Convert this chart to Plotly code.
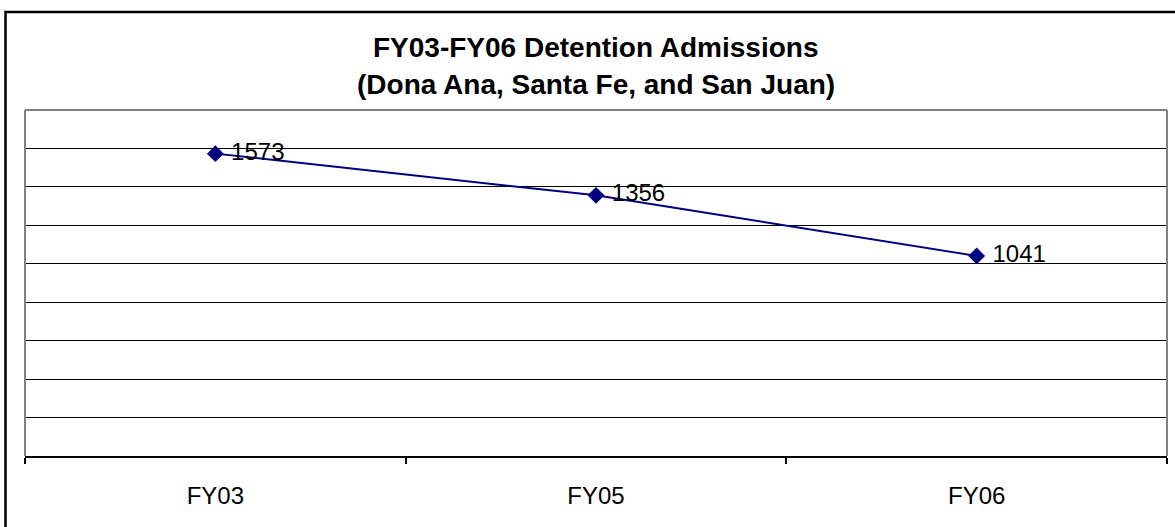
import plotly.graph_objects as go

categories = ["FY03", "FY05", "FY06"]
admissions = [1573, 1356, 1041]
title_line1 = "FY03-FY06 Detention Admissions"
title_line2 = "(Dona Ana, Santa Fe, and San Juan)"

W, H = 1175, 527
ml, mr, mt, mb = 25, 8, 110, 71
pw, ph = W - ml - mr, H - mt - mb

def px_x(p):
    return (p - ml) / pw

def px_y(p):
    return (H - mb - p) / ph

FONT = "Liberation Sans, Arial, sans-serif"
NAVY = "#000080"

fig = go.Figure()
fig.add_trace(go.Scatter(
    x=categories, y=admissions,
    mode="lines+markers+text", textposition="middle right",
    texttemplate="\u00a0%{y}",
    textfont=dict(family=FONT, size=24, color="black"),
    line=dict(color=NAVY, width=2),
    marker=dict(symbol="diamond", size=13, color=NAVY),
    cliponaxis=False, showlegend=False, hoverinfo="x+y",
))

fig.update_layout(
    width=W, height=H,
    margin=dict(l=ml, r=mr, t=mt, b=mb),
    paper_bgcolor="white", plot_bgcolor="white",
    font=dict(family=FONT, color="black"),
    xaxis=dict(
        type="category", range=[-0.5, 2.5],
        showline=True, linecolor="black", linewidth=2,
        ticks="outside", tickson="boundaries", ticklen=6, tickwidth=2, tickcolor="black",
        tickfont=dict(family=FONT, size=24, color="black"),
        ticklabelstandoff=17,
        showgrid=False, zeroline=False,
    ),
    yaxis=dict(
        range=[0, 1800], dtick=200, tick0=0,
        showticklabels=False, ticks="",
        showgrid=True, gridcolor="black", gridwidth=1,
        zeroline=False, showline=False,
    ),
    annotations=[
        dict(text="<b>" + title_line1 + "</b>",
             xref="paper", yref="paper", x=0.5, y=px_y(48),
             xanchor="center", yanchor="middle", showarrow=False,
             font=dict(family=FONT, size=28, color="black")),
        dict(text="<b>" + title_line2 + "</b>",
             xref="paper", yref="paper", x=0.5, y=px_y(85),
             xanchor="center", yanchor="middle", showarrow=False,
             font=dict(family=FONT, size=28, color="black")),
    ],
    shapes=[
        dict(type="line", xref="paper", yref="paper", x0=0, x1=1, y0=1, y1=1,
             line=dict(color="#808080", width=2)),
        dict(type="line", xref="paper", yref="paper", x0=0, x1=0, y0=0, y1=1,
             line=dict(color="#808080", width=2)),
        dict(type="line", xref="paper", yref="paper", x0=1, x1=1, y0=0, y1=1,
             line=dict(color="#808080", width=2)),
        dict(type="rect", xref="paper", yref="paper",
             x0=px_x(5.5), x1=px_x(1190), y0=px_y(12), y1=px_y(545),
             line=dict(color="black", width=2.5)),
    ],
)

fig.write_html(
    "out.html",
    config={"displayModeBar": False},
    post_script="document.body.style.margin='0';document.body.style.overflow='hidden';",
)
